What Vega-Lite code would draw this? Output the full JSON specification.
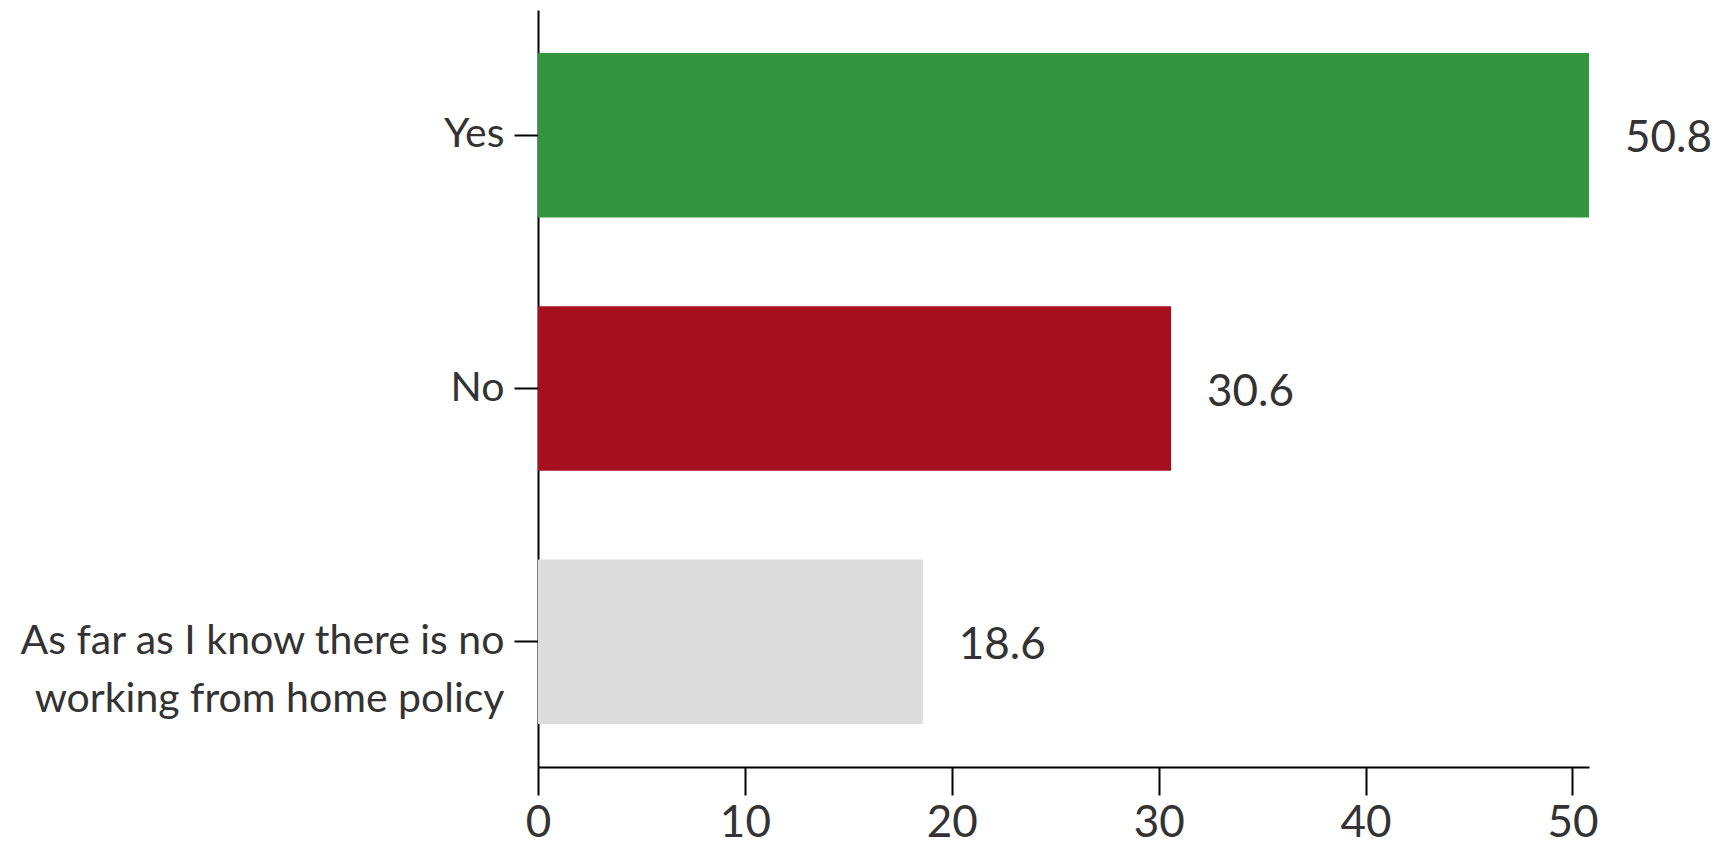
{
  "$schema": "https://vega.github.io/schema/vega-lite/v6.json",
  "autosize": "none",
  "width": 1051,
  "height": 757,
  "padding": {"left": 538, "top": 10, "right": 130, "bottom": 82},
  "background": "white",
  "config": {
    "view": {"stroke": null},
    "font": "Lato",
    "axis": {
      "domainColor": "#000000",
      "domainWidth": 2,
      "tickColor": "#000000",
      "tickWidth": 2,
      "labelColor": "#333333",
      "labelFont": "Lato",
      "labelFontSize": 41,
      "grid": false,
      "title": null
    }
  },
  "data": {
    "values": [
      {"answer": "Yes", "value": 50.8},
      {"answer": "No", "value": 30.6},
      {"answer": "As far as I know there is no|working from home policy", "value": 18.6}
    ]
  },
  "encoding": {
    "y": {
      "field": "answer",
      "type": "nominal",
      "sort": null,
      "scale": {"paddingInner": 0.35, "paddingOuter": 0.17},
      "axis": {
        "tickSize": 24,
        "labelPadding": 10,
        "labelExpr": "split(datum.label, '|')",
        "labelLineHeight": 58,
        "labelLimit": 0
      }
    },
    "x": {
      "field": "value",
      "type": "quantitative",
      "scale": {"domain": [0, 50.8], "nice": false, "zero": true},
      "axis": {
        "values": [0, 10, 20, 30, 40, 50],
        "tickSize": 28,
        "labelPadding": 6,
        "labelFontSize": 44,
        "labelFlush": false
      }
    }
  },
  "layer": [
    {
      "mark": {"type": "bar"},
      "encoding": {
        "color": {
          "field": "answer",
          "type": "nominal",
          "scale": {
            "domain": ["Yes", "No", "As far as I know there is no|working from home policy"],
            "range": ["#339540", "#a50f1e", "#dcdcdc"]
          },
          "legend": null
        }
      }
    },
    {
      "mark": {
        "type": "text",
        "align": "left",
        "baseline": "middle",
        "dx": 36,
        "dy": 4,
        "fontSize": 44,
        "color": "#333333",
        "font": "Lato"
      },
      "encoding": {
        "text": {"field": "value", "type": "quantitative", "format": ".1f"}
      }
    }
  ]
}
